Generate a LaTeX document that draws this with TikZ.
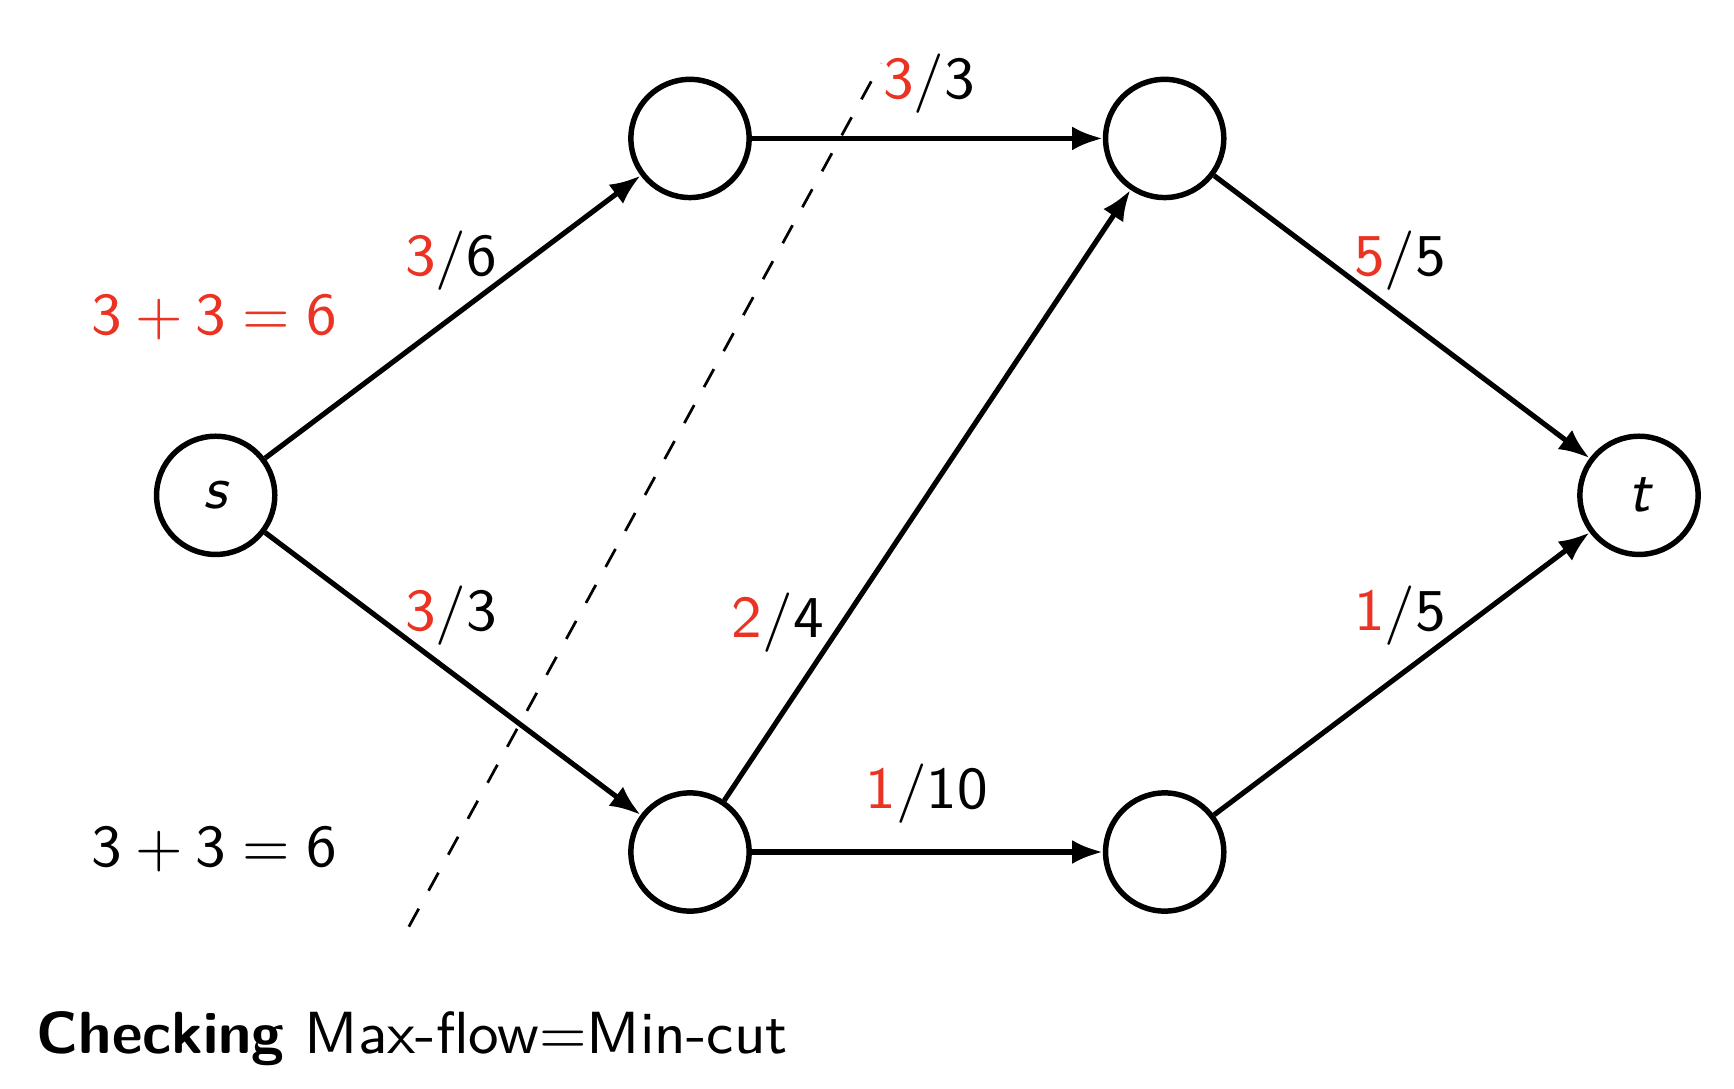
\documentclass[tikz,border=0pt]{standalone}
\usepackage{fontspec}
\usetikzlibrary{arrows.meta}
\definecolor{flowred}{RGB}{234,51,35}
\begin{document}
\begin{tikzpicture}[x=0.1626pt,y=-0.1626pt,
  font=\sffamily\fontsize{8.7}{10.5}\selectfont,
  vtx/.style={circle,draw,line width=0.8pt,minimum size=17.3pt,inner sep=0pt},
  flow/.style={line width=0.75pt,-{Latex[length=4.5pt,width=3.5pt]}},
  lbl/.style={inner sep=0pt},
  cut/.style={dashed,line width=0.4pt}]
\useasboundingbox (0,0) rectangle (1560.6,979.2);
\node[vtx] (s) at (194.1,445.8) {\itshape s};
\node[vtx] (a) at (621,124.6) {};
\node[vtx] (b) at (1048.2,124.6) {};
\node[vtx] (c) at (621,766.8) {};
\node[vtx] (d) at (1048.2,766.8) {};
\node[vtx] (t) at (1475.1,445.8) {\itshape t};
\draw[flow] (s) -- (a);
\draw[flow] (s) -- (c);
\draw[flow] (a) -- (b);
\draw[flow] (c) -- (b);
\draw[flow] (c) -- (d);
\draw[flow] (b) -- (t);
\draw[flow] (d) -- (t);
\node[lbl] (lsa) at (406,235) {\textcolor{flowred}{3}/6};
\node[lbl] (lsc) at (406,554) {\textcolor{flowred}{3}/3};
\node[lbl] (lab) at (836,75) {\textcolor{flowred}{3}/3};
\node[lbl] (lcb) at (700,560) {\textcolor{flowred}{2}/4};
\node[lbl] (lcd) at (834,714) {\textcolor{flowred}{1}/10};
\node[lbl] (lbt) at (1260,235) {\textcolor{flowred}{5}/5};
\node[lbl] (ldt) at (1260,554) {\textcolor{flowred}{1}/5};
\node[lbl,text=flowred] (sum1) at (193,285) {3\hspace{0.222em}+\hspace{0.222em}3\hspace{0.278em}=\hspace{0.278em}6};
\node[lbl] (sum2) at (193,764) {3\hspace{0.222em}+\hspace{0.222em}3\hspace{0.278em}=\hspace{0.278em}6};
\coordinate (cut1) at (368,834);
\coordinate (cut2) at (793,57);
\draw[cut] (cut1) -- (cut2);
\node[anchor=base west,inner sep=0pt] (title) at (32,948.5) {\textbf{Checking} Max-flow=Min-cut};
\end{tikzpicture}
\end{document}
